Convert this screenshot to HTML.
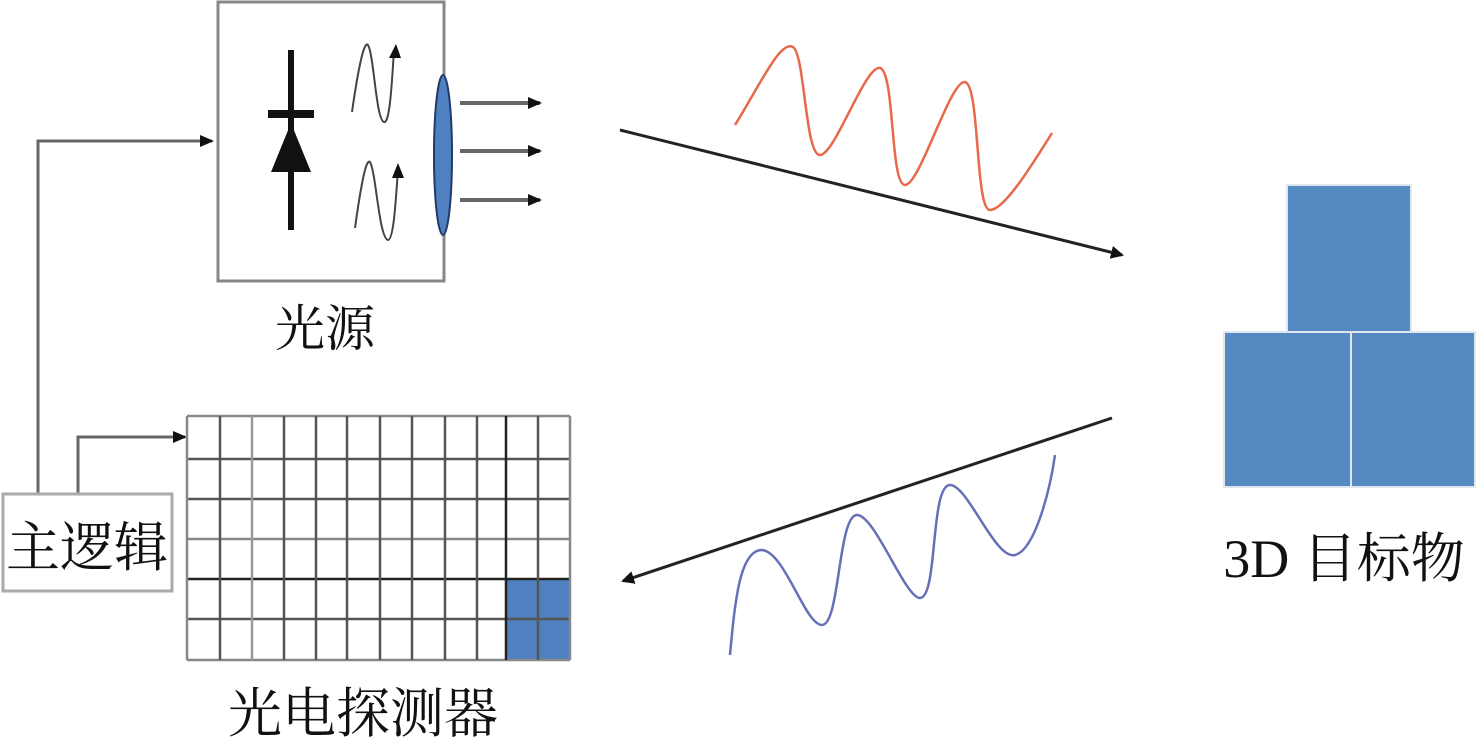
<!DOCTYPE html>
<html><head><meta charset="utf-8"><style>
html,body{margin:0;padding:0;background:#fff;width:1476px;height:745px;overflow:hidden}
svg{display:block}
text{font-family:"Liberation Serif","Noto Serif CJK SC",serif;fill:#111}
</style></head><body>
<svg width="1476" height="745" viewBox="0 0 1476 745" xmlns="http://www.w3.org/2000/svg">
<defs>
<marker id="ah" markerWidth="13" markerHeight="13" refX="11" refY="6.5" orient="auto" markerUnits="userSpaceOnUse"><path d="M0,0 L13,6.5 L0,13 z" fill="#111"/></marker>
<marker id="ah2" markerWidth="14" markerHeight="14" refX="12" refY="7" orient="auto" markerUnits="userSpaceOnUse"><path d="M0,1 L14,7 L0,13 z" fill="#111"/></marker>
</defs>
<rect x="218" y="2" width="226" height="279" fill="#fff" stroke="#8a8686" stroke-width="3"/>
<line x1="291" y1="50" x2="291" y2="230" stroke="#111" stroke-width="6"/>
<rect x="268" y="110" width="46" height="8" fill="#111"/>
<path d="M291,123 L311,172 L271,172 z" fill="#111"/>
<path d="M352,112 C358,70 364,40 368,45 C374,55 376,120 384,122 C390,124 392,80 394,50" fill="none" stroke="#444" stroke-width="2"/>
<path d="M389,58 L396,44 L401,58 z" fill="#111"/>
<path d="M355,228 C361,185 366,158 370,162 C376,172 379,238 388,240 C394,240 396,195 398,170" fill="none" stroke="#444" stroke-width="2"/>
<path d="M392,178 L398,163 L404,178 z" fill="#111"/>
<ellipse cx="443" cy="155" rx="9" ry="80" fill="#4f81c0" stroke="#223a66" stroke-width="2"/>
<g stroke="#666" stroke-width="4" marker-end="url(#ah2)">
<line x1="460" y1="103" x2="540" y2="103"/>
<line x1="460" y1="151" x2="540" y2="151"/>
<line x1="460" y1="200" x2="540" y2="200"/>
</g>
<text x="325" y="346" font-size="50" text-anchor="middle">光源</text>
<polyline points="38,493 38,141 212,141" fill="none" stroke="#666" stroke-width="3" marker-end="url(#ah2)"/>
<polyline points="78,493 78,437 185,437" fill="none" stroke="#666" stroke-width="3" marker-end="url(#ah2)"/>
<rect x="3" y="494" width="169" height="97" fill="#fff" stroke="#aaa" stroke-width="3"/>
<text x="87" y="566" font-size="54" text-anchor="middle">主逻辑</text>
<rect x="506" y="579" width="64" height="81" fill="#4f81c0"/>
<g stroke="#555" stroke-width="2.5" fill="none">
<line x1="187" y1="416" x2="570" y2="416" stroke="#888"/>
<line x1="187" y1="459" x2="570" y2="459"/>
<line x1="187" y1="499" x2="570" y2="499"/>
<line x1="187" y1="539" x2="570" y2="539" stroke="#888"/>
<line x1="187" y1="579" x2="570" y2="579" stroke="#222"/>
<line x1="187" y1="619" x2="570" y2="619"/>
<line x1="187" y1="660" x2="570" y2="660" stroke="#888"/>
<line x1="187" y1="416" x2="187" y2="660" stroke="#888"/>
<line x1="220" y1="416" x2="220" y2="660"/>
<line x1="252" y1="416" x2="252" y2="660" stroke="#999"/>
<line x1="284" y1="416" x2="284" y2="660"/>
<line x1="316" y1="416" x2="316" y2="660"/>
<line x1="347" y1="416" x2="347" y2="660"/>
<line x1="380" y1="416" x2="380" y2="660"/>
<line x1="412" y1="416" x2="412" y2="660"/>
<line x1="445" y1="416" x2="445" y2="660"/>
<line x1="477" y1="416" x2="477" y2="660"/>
<line x1="506" y1="416" x2="506" y2="660" stroke="#222"/>
<line x1="538" y1="416" x2="538" y2="660"/>
<line x1="570" y1="416" x2="570" y2="660" stroke="#888"/>
</g>
<text x="363" y="732" font-size="54" text-anchor="middle">光电探测器</text>
<line x1="620" y1="130" x2="1122" y2="255" stroke="#222" stroke-width="3" marker-end="url(#ah)"/>
<path d="M735,125 C760,85 780,40 793,47 C805,55 805,155 820,155 C835,155 865,65 880,68 C895,72 890,185 905,185 C920,185 950,80 965,82 C980,85 975,210 990,210 C1005,210 1035,160 1052,133" fill="none" stroke="#e8684a" stroke-width="2.5"/>
<line x1="1112" y1="418" x2="623" y2="581" stroke="#222" stroke-width="3" marker-end="url(#ah)"/>
<path d="M730,655 C735,600 740,550 762,550 C785,552 805,625 822,625 C840,625 838,515 857,515 C875,515 905,598 920,598 C938,598 930,485 950,485 C968,485 995,560 1015,555 C1035,550 1050,490 1055,455" fill="none" stroke="#6670b8" stroke-width="2.5"/>
<rect x="1287" y="185" width="124" height="147" fill="#5589c2" stroke="#dfe6ee" stroke-width="2"/>
<rect x="1224" y="332" width="127" height="155" fill="#5589c2" stroke="#dfe6ee" stroke-width="2"/>
<rect x="1351" y="332" width="124" height="155" fill="#5589c2" stroke="#dfe6ee" stroke-width="2"/>
<text x="1344" y="577" font-size="54" text-anchor="middle">3D 目标物</text>
</svg>
</body></html>
